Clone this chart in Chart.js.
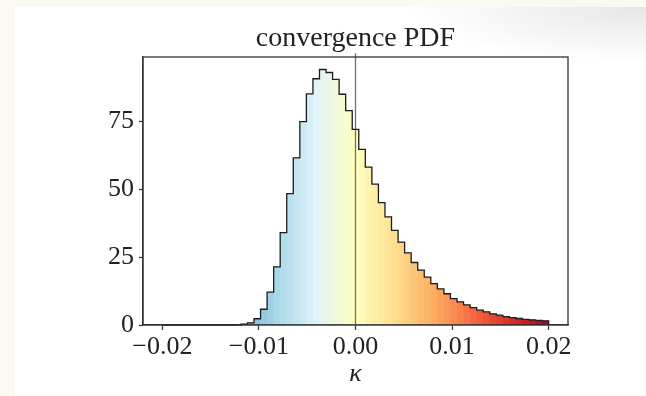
<!DOCTYPE html>
<html>
<head>
<meta charset="utf-8">
<script src="https://cdn.jsdelivr.net/npm/chart.js@4.4.1/dist/chart.umd.min.js"></script>
<style>
    html, body { margin: 0; padding: 0; width: 646px; height: 396px; overflow: hidden; background: #faf9f3; }
    #panel {
        position: absolute; left: 15px; top: 7px; right: 0; bottom: 0;
        background: radial-gradient(ellipse 240px 55px at 100% 0%, #e6e6e6 0%, rgba(255,255,255,0) 100%), #ffffff;
    }
    #chart { position: absolute; left: 0; top: 0; }
</style>
</head>
<body>
<div id="panel"></div>
<canvas id="chart" width="646" height="396"></canvas>
<script>
// --- data: histogram of kappa, 59 bins between -0.02 and 0.02 ---
const binStart = -0.02;
const binEnd = 0.02;
const binCount = 59;
const density = [
    0, 0, 0, 0, 0, 0, 0, 0, 0, 0,
    0, 0.1, 0.3, 0.8, 2.3, 5.8, 12.1, 21.4, 34.0, 48.3,
    61.5, 74.8, 85.0, 90.6, 94.0, 92.9, 90.4, 84.9, 78.9, 72.0,
    64.6, 58.1, 51.8, 45.0, 39.8, 34.8, 30.5, 26.5, 23.0, 20.2,
    17.6, 15.2, 13.3, 11.5, 9.7, 8.5, 7.4, 6.4, 5.5, 4.8,
    4.1, 3.6, 3.1, 2.7, 2.4, 2.1, 1.9, 1.7, 1.5
];
const xTicks = [-0.02, -0.01, 0, 0.01, 0.02];
const yTicks = [0, 25, 50, 75];
const xLimits = [-0.022, 0.022];
const yLimits = [0, 98.6];
const vLine = [0, 100];   // kappa = 0 marker

const binEdges = Array.from({ length: binCount + 1 }, (_, i) => binStart + i * (binEnd - binStart) / binCount);
const binCenters = density.map((_, i) => (binEdges[i] + binEdges[i + 1]) / 2);

// RdYlBu_r colour map
const cmap = ['#313695', '#4575b4', '#74add1', '#abd9e9', '#e0f3f8', '#ffffbf',
              '#fee090', '#fdae61', '#f46d43', '#d73027', '#a50026'];
function hexToRgb(h) {
    return [parseInt(h.slice(1, 3), 16), parseInt(h.slice(3, 5), 16), parseInt(h.slice(5, 7), 16)];
}
function colourAt(t) {
    t = Math.min(1, Math.max(0, t)) * (cmap.length - 1);
    const i = Math.min(cmap.length - 2, Math.floor(t));
    const f = t - i;
    const a = hexToRgb(cmap[i]), b = hexToRgb(cmap[i + 1]);
    const c = a.map((v, k) => Math.round(v + (b[k] - v) * f));
    return `rgb(${c[0]},${c[1]},${c[2]})`;
}
const barColours = binCenters.map(c => colourAt((c - binStart) / (binEnd - binStart)));

// step outline (matplotlib histtype='step'): each bin's value holds until the next edge
const outline = [{ x: binEdges[0], y: 0 }];
density.forEach((d, i) => outline.push({ x: binEdges[i], y: d }));
outline.push({ x: binEdges[binCount], y: density[binCount - 1] });
outline.push({ x: binEdges[binCount], y: 0 });

const serif = "'Liberation Serif', 'Times New Roman', serif";
const ink = '#222222';
const fmtTick = v => (v < 0 ? '\u2212' : '') + Math.abs(v).toFixed(2);

// draws the box around the plot area
const frame = {
    id: 'frame',
    afterDraw(chart) {
        const { ctx, chartArea: a } = chart;
        ctx.save();
        ctx.strokeStyle = '#333333';
        ctx.lineWidth = 1.3;
        ctx.strokeRect(a.left, a.top, a.right - a.left, a.bottom - a.top);
        ctx.restore();
    }
};

new Chart(document.getElementById('chart'), {
    type: 'bar',
    data: {
        datasets: [
            {
                type: 'line', label: 'outline', data: outline, stepped: 'before',
                borderColor: '#1c1c1c', borderWidth: 1.3, pointRadius: 0, fill: false, clip: false, order: 0
            },
            {
                type: 'line', label: 'kappa = 0', data: vLine.map(y => ({ x: 0, y })),
                borderColor: '#707070', borderWidth: 1.3, pointRadius: 0, fill: false, clip: false, order: 1
            },
            {
                type: 'bar', label: 'PDF', data: binCenters.map((c, i) => ({ x: c, y: density[i] })),
                backgroundColor: barColours, borderColor: barColours, borderWidth: 0.5,
                barPercentage: 1, categoryPercentage: 1, order: 2
            }
        ]
    },
    options: {
        responsive: false,
        animation: false,
        layout: { padding: { left: 0, right: 78, top: 0, bottom: 0 } },
        plugins: {
            legend: { display: false },
            tooltip: { enabled: false },
            title: { display: false }
        },
        scales: {
            x: {
                type: 'linear', position: 'bottom', min: xLimits[0], max: xLimits[1], offset: false,
                afterBuildTicks: s => { s.ticks = xTicks.map(v => ({ value: v })); },
                ticks: { callback: v => fmtTick(v), font: { family: serif, size: 26 }, color: ink, padding: 2, maxRotation: 0, autoSkip: false },
                grid: { display: true, offset: false, drawOnChartArea: false, drawTicks: true, tickLength: 5, tickColor: '#333333', tickWidth: 1.2 },
                border: { display: true, color: '#333333', width: 1.3 },
                title: { display: true, text: '\u03BA', font: { family: serif, size: 26, style: 'italic' }, color: ink, padding: { top: 0, bottom: 6 } },
                afterFit: s => { s.height = 71; }
            },
            xTop: {
                type: 'linear', position: 'top', min: xLimits[0], max: xLimits[1], offset: false,
                ticks: { display: false },
                grid: { display: false },
                border: { display: false },
                title: { display: true, text: 'convergence PDF', font: { family: serif, size: 28 }, color: ink, padding: { top: 22, bottom: 0 } },
                afterFit: s => { s.height = 57; }
            },
            y: {
                type: 'linear', min: yLimits[0], max: yLimits[1],
                afterBuildTicks: s => { s.ticks = yTicks.map(v => ({ value: v })); },
                ticks: { font: { family: serif, size: 26 }, color: ink, padding: 5 },
                grid: { display: true, drawOnChartArea: false, drawTicks: true, tickLength: 4, tickColor: '#333333', tickWidth: 1.2 },
                border: { display: true, color: '#333333', width: 1.3 },
                afterFit: s => { s.width = 143; }
            }
        }
    },
    plugins: [frame]
});
</script>
</body>
</html>
